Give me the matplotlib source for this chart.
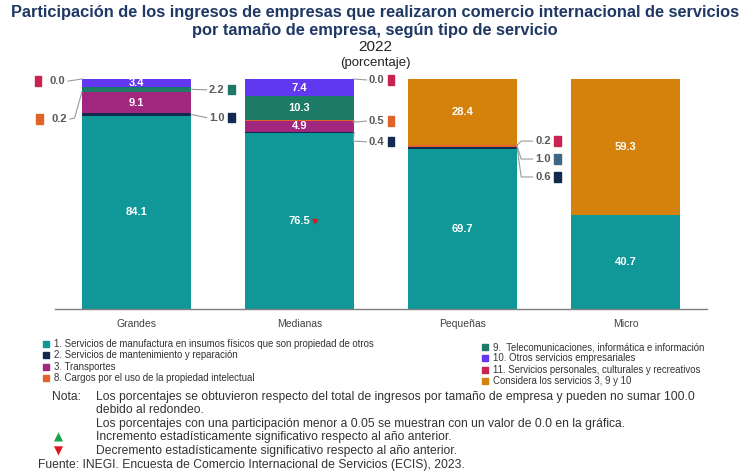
import numpy as np
import matplotlib
matplotlib.use('Agg')
import matplotlib.pyplot as plt
from matplotlib.patches import Rectangle

plt.rcParams['font.family'] = ['Liberation Sans', 'DejaVu Sans']

# datos (porcentaje)
tamanos = ['Grandes', 'Medianas', 'Pequeñas', 'Micro']
manufactura = [84.1, 76.5, 69.7, 40.7]
mantenimiento = [1.0, 0.4, 0.6, 0.0]
transportes = [9.1, 4.9, 0.0, 0.0]
cargos = [0.2, 0.5, 1.0, 0.0]
telecom = [2.2, 10.3, 0.0, 0.0]
otros = [3.4, 7.4, 0.0, 0.0]
personales = [0.0, 0.0, 0.2, 0.0]
considera = [0.0, 0.0, 28.4, 59.3]

series = [manufactura, mantenimiento, transportes, cargos, telecom, otros, personales, considera]
colores = ['#109898', '#10294d', '#a0267e', '#e0632a', '#1d7a66', '#6237f0', '#c8244f', '#d4820c']

leyenda_izq = ['1. Servicios de manufactura en insumos físicos que son propiedad de otros',
               '2. Servicios de mantenimiento y reparación',
               '3. Transportes',
               '8. Cargos por el uso de la propiedad intelectual']
leyenda_der = ['9.  Telecomunicaciones, informática e información',
               '10. Otros servicios empresariales',
               '11. Servicios personales, culturales y recreativos',
               'Considera los servicios 3, 9 y 10']

W, H = 750, 473

fig = plt.figure(figsize=(7.5, 4.73), dpi=100)
ax = fig.add_axes([55 / W, 1 - 309 / H, 652 / W, 230 / H])
x = np.arange(len(tamanos)) + 0.5
ancho = 0.67

bottom = np.zeros(len(tamanos))
for s, c in zip(series, colores):
    ax.bar(x, s, bottom=bottom, width=ancho, color=c, linewidth=0)
    # etiquetas dentro de las barras
    for i, v in enumerate(s):
        if v >= 2.5:
            ax.text(x[i], bottom[i] + v / 2, f'{v:.1f}', ha='center', va='center',
                    color='white', fontsize=8, fontweight='bold')
    bottom = bottom + np.array(s)

ax.set_xlim(0, 4)
ax.set_ylim(0, 100)
for sp in ['top', 'right', 'left']:
    ax.spines[sp].set_visible(False)
ax.spines['bottom'].set_color('#7f7f7f')
ax.spines['bottom'].set_linewidth(1.0)
ax.set_yticks([])
ax.set_xticks(x)
ax.set_xticklabels(tamanos, fontsize=7.5, color='#404040')
ax.tick_params(axis='x', length=0, pad=7)

ax.text(x[1] + 0.075, manufactura[1] / 2, '▼', color='#e0141e', fontsize=6, ha='left', va='center',
        family='DejaVu Sans')

# etiquetas externas con líneas guía
gris = '#9a9a9a'
def callout(xb, yb, xt, yt, texto, color, lado='der', codo=None):
    pts = [(xb, yb)] + ([codo] if codo else []) + [(xt, yt)]
    xs, ys = zip(*pts)
    ax.plot(xs, ys, color=gris, lw=0.8, clip_on=False)
    if lado == 'der':
        ax.text(xt + 0.015, yt, texto, ha='left', va='center', fontsize=8,
                fontweight='bold', color='#595959')
        ax.add_patch(Rectangle((xt + 0.13, yt - 2.0), 0.042, 4.0, color=color, clip_on=False))
    else:
        ax.text(xt - 0.015, yt, texto, ha='right', va='center', fontsize=8,
                fontweight='bold', color='#595959')
        ax.add_patch(Rectangle((xt - 0.205, yt - 2.0), 0.042, 4.0, color=color, clip_on=False))

izq0 = x[0] - ancho / 2
der0 = x[0] + ancho / 2
callout(izq0, 100, 0.08, 99.1, '0.0', colores[6], 'izq')
callout(izq0, 94.3, 0.09, 82.6, '0.2', colores[3], 'izq', codo=(0.12, 83.0))
callout(der0, 95.5, 0.93, 95.3, '2.2', colores[4])
callout(der0, 84.6, 0.93, 83.2, '1.0', colores[1])

der1 = x[1] + ancho / 2
callout(der1, 100, 1.91, 99.6, '0.0', colores[6])
callout(der1, 82.0, 1.91, 81.7, '0.5', colores[3], codo=(1.83, 81.2))
callout(der1, 76.7, 1.91, 72.7, '0.4', colores[1], codo=(1.83, 73.0))

der2 = x[2] + ancho / 2
callout(der2, 71.2, 2.93, 73.0, '0.2', colores[6], codo=(2.86, 73.0))
callout(der2, 70.9, 2.93, 65.2, '1.0', '#3f6585', codo=(2.86, 65.2))
callout(der2, 70.4, 2.93, 57.4, '0.6', colores[1], codo=(2.86, 57.4))

# títulos
tit = '#1f3864'
fig.text(0.5, 1 - 12 / H, 'Participación de los ingresos de empresas que realizaron comercio internacional de servicios',
         ha='center', va='center', fontsize=11.8, fontweight='bold', color=tit)
fig.text(0.5, 1 - 30 / H, 'por tamaño de empresa, según tipo de servicio',
         ha='center', va='center', fontsize=11.8, fontweight='bold', color=tit)
fig.text(0.5, 1 - 47 / H, '2022', ha='center', va='center', fontsize=11, color='#222222')
fig.text(0.5, 1 - 63 / H, '(porcentaje)', ha='center', va='center', fontsize=9.5, color='#222222')

# leyenda
for i, (lab, c) in enumerate(zip(leyenda_izq, colores[:4])):
    yy = 344 + i * 11.3
    fig.add_artist(Rectangle((43 / W, 1 - (yy + 3) / H), 6 / W, 6 / H, color=c,
                             transform=fig.transFigure))
    fig.text(54 / W, 1 - yy / H, lab, ha='left', va='center', fontsize=6.9, color='#333333')
for i, (lab, c) in enumerate(zip(leyenda_der, colores[4:])):
    yy = 347 + i * 11.3
    fig.add_artist(Rectangle((482 / W, 1 - (yy + 3) / H), 6 / W, 6 / H, color=c,
                             transform=fig.transFigure))
    fig.text(493 / W, 1 - yy / H, lab, ha='left', va='center', fontsize=6.9, color='#333333')

# notas
nc = '#333333'
fs = 8.7
fig.text(52 / W, 1 - 397 / H, 'Nota:', ha='left', va='center', fontsize=fs, color=nc)
notas = ['Los porcentajes se obtuvieron respecto del total de ingresos por tamaño de empresa y pueden no sumar 100.0',
         'debido al redondeo.',
         'Los porcentajes con una participación menor a 0.05 se muestran con un valor de 0.0 en la gráfica.',
         'Incremento estadísticamente significativo respecto al año anterior.',
         'Decremento estadísticamente significativo respecto al año anterior.']
for yy, t in zip([397, 410, 424, 437, 451], notas):
    fig.text(96 / W, 1 - yy / H, t, ha='left', va='center', fontsize=fs, color=nc)
fig.text(58 / W, 1 - 437 / H, '▲', ha='center', va='center', fontsize=8.5, color='#1aa14a',
         family='DejaVu Sans')
fig.text(58 / W, 1 - 451 / H, '▼', ha='center', va='center', fontsize=8.5, color='#e0141e',
         family='DejaVu Sans')
fig.text(38 / W, 1 - 465 / H, 'Fuente: INEGI. Encuesta de Comercio Internacional de Servicios (ECIS), 2023.',
         ha='left', va='center', fontsize=fs, color=nc)

fig.savefig('out.png', dpi=100, facecolor='white')
